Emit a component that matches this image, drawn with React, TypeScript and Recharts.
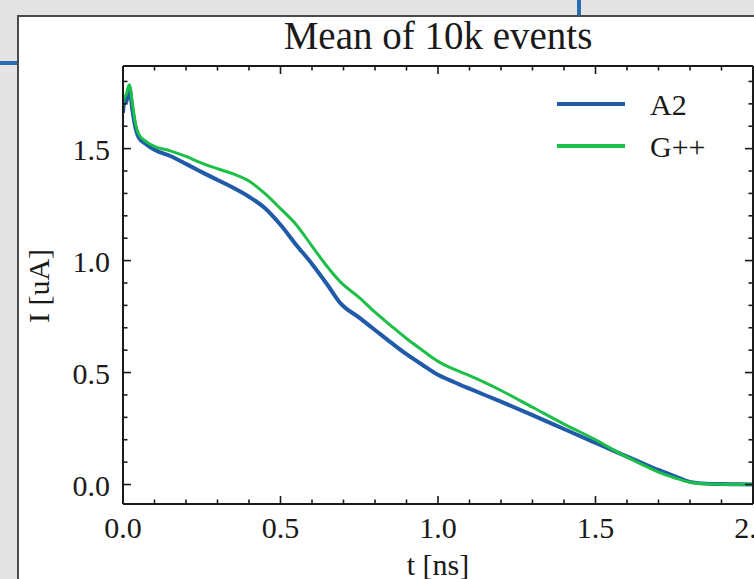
import React from 'react';
import { LineChart, Line, XAxis, YAxis, Legend } from 'recharts';

// time axis in ns, shared by both series
const tValues = [
  0, 0.005, 0.01, 0.02, 0.03, 0.04, 0.05, 0.075, 0.1, 0.15, 0.2, 0.25, 0.3, 0.35, 0.4, 0.45,
  0.5, 0.55, 0.6, 0.65, 0.69, 0.75, 0.8, 0.85, 0.9, 0.95, 1.0, 1.05, 1.1, 1.2, 1.3, 1.4,
  1.5, 1.58, 1.65, 1.7, 1.75, 1.8, 1.85, 1.9, 1.95, 2.0,
];

// mean current in uA
const a2Values = [
  1.66, 1.72, 1.71, 1.775, 1.67, 1.59, 1.55, 1.518, 1.495, 1.467, 1.432, 1.395, 1.36, 1.325, 1.285, 1.235,
  1.16, 1.07, 0.985, 0.89, 0.81, 0.745, 0.69, 0.635, 0.582, 0.535, 0.49, 0.458, 0.428, 0.37, 0.31, 0.248,
  0.186, 0.137, 0.095, 0.065, 0.038, 0.012, 0.004, 0.002, 0.001, 0.0,
];

const gppValues = [
  1.7, 1.73, 1.74, 1.785, 1.7, 1.61, 1.565, 1.53, 1.51, 1.49, 1.465, 1.435, 1.41, 1.387, 1.355, 1.3,
  1.232, 1.16, 1.065, 0.97, 0.905, 0.835, 0.77, 0.71, 0.652, 0.6, 0.55, 0.515, 0.486, 0.42, 0.345, 0.27,
  0.2, 0.137, 0.088, 0.055, 0.03, 0.01, 0.003, 0.001, 0.0, 0.0,
];

const xTicks = [0, 0.1, 0.2, 0.3, 0.4, 0.5, 0.6, 0.7, 0.8, 0.9, 1.0, 1.1, 1.2, 1.3, 1.4, 1.5, 1.6, 1.7, 1.8, 1.9, 2.0];
const yTicks = [0, 0.1, 0.2, 0.3, 0.4, 0.5, 0.6, 0.7, 0.8, 0.9, 1.0, 1.1, 1.2, 1.3, 1.4, 1.5, 1.6, 1.7, 1.8];
const xMajor = [0, 0.5, 1.0, 1.5, 2.0];
const yMajor = [0, 0.5, 1.0, 1.5];

const chartData = tValues.map((t, i) => ({ t, a2: a2Values[i], gpp: gppValues[i] }));

const FONT = "'Liberation Serif', 'DejaVu Serif', serif";
const INK = '#1a1a1a';
const BLUE = '#1f5ba8';
const GREEN = '#1cbf47';

const isMajor = (v: number, list: number[]) => list.some((m) => Math.abs(m - v) < 1e-6);

const BottomTick = (props: any) => {
  const { x, y, payload } = props;
  const major = isMajor(payload.value, xMajor);
  return (
    <g>
      <line x1={x} x2={x} y1={y} y2={y - (major ? 8 : 4.5)} stroke={INK} strokeWidth={1.6} />
      {major && (
        <text x={x} y={y + 34} textAnchor="middle" fontFamily={FONT} fontSize={30} fill={INK}>
          {payload.value.toFixed(1)}
        </text>
      )}
    </g>
  );
};

const TopTick = (props: any) => {
  const { x, y, payload } = props;
  const major = isMajor(payload.value, xMajor);
  return <line x1={x} x2={x} y1={y} y2={y + (major ? 8 : 4.5)} stroke={INK} strokeWidth={1.6} />;
};

const LeftTick = (props: any) => {
  const { x, y, payload } = props;
  const major = isMajor(payload.value, yMajor);
  return (
    <g>
      <line x1={x} x2={x + (major ? 8 : 4.5)} y1={y} y2={y} stroke={INK} strokeWidth={1.6} />
      {major && (
        <text x={x - 13} y={y + 11} textAnchor="end" fontFamily={FONT} fontSize={30} fill={INK}>
          {payload.value.toFixed(1)}
        </text>
      )}
    </g>
  );
};

const RightTick = (props: any) => {
  const { x, y, payload } = props;
  const major = isMajor(payload.value, yMajor);
  return <line x1={x} x2={x - (major ? 8 : 4.5)} y1={y} y2={y} stroke={INK} strokeWidth={1.6} />;
};

const renderLegend = (props: any) => {
  const items = props.payload || [];
  return (
    <svg width={190} height={90} style={{ display: 'block' }}>
      {items.map((item: any, i: number) => (
        <g key={item.value}>
          <line x1={0} x2={68} y1={14 + i * 42} y2={14 + i * 42} stroke={item.color} strokeWidth={4} />
          <text x={93} y={25 + i * 42} fontFamily={FONT} fontSize={30} fill={INK}>
            {item.value}
          </text>
        </g>
      ))}
    </svg>
  );
};

export default function App() {
  return (
    <div
      style={{
        position: 'absolute',
        left: 0,
        top: 0,
        width: 754,
        height: 579,
        overflow: 'hidden',
        background: '#e4e4e4',
      }}
    >
      {/* window decorations behind the figure */}
      <div style={{ position: 'absolute', left: 577, top: 0, width: 4, height: 16, background: '#2a6db3' }} />
      <div style={{ position: 'absolute', left: 0, top: 61, width: 18, height: 4, background: '#2a6db3' }} />
      <div
        style={{
          position: 'absolute',
          left: 17,
          top: 15,
          width: 800,
          height: 600,
          background: '#fff',
          borderLeft: '2px solid #4a4a4a',
          borderTop: '2px solid #4a4a4a',
        }}
      />
      <div style={{ position: 'absolute', left: 0, top: 0 }}>
        <LineChart width={754} height={579} data={chartData} margin={{ top: 65, right: 0, bottom: 74, left: 122 }}>
          <XAxis
            xAxisId="bottom"
            dataKey="t"
            type="number"
            domain={[0, 2]}
            allowDataOverflow
            ticks={xTicks}
            interval={0}
            height={1}
            tickSize={0}
            tickMargin={0}
            tick={<BottomTick />}
            axisLine={{ stroke: INK, strokeWidth: 2 }}
            tickLine={false}
            label={(p: any) => (
              <text x={438} y={575} textAnchor="middle" fontFamily={FONT} fontSize={30} fill={INK}>
                t [ns]
              </text>
            )}
          />
          <XAxis
            xAxisId="top"
            orientation="top"
            dataKey="t"
            type="number"
            domain={[0, 2]}
            allowDataOverflow
            ticks={xTicks}
            interval={0}
            height={1}
            tickSize={0}
            tickMargin={0}
            tick={<TopTick />}
            axisLine={{ stroke: INK, strokeWidth: 2 }}
            tickLine={false}
            label={(p: any) => (
              <text x={438} y={49} textAnchor="middle" fontFamily={FONT} fontSize={39} fill={INK}>
                Mean of 10k events
              </text>
            )}
          />
          <YAxis
            yAxisId="left"
            type="number"
            domain={[-0.087, 1.869]}
            allowDataOverflow
            ticks={yTicks}
            interval={0}
            width={1}
            tickSize={0}
            tickMargin={0}
            tick={<LeftTick />}
            axisLine={{ stroke: INK, strokeWidth: 2 }}
            tickLine={false}
            label={(p: any) => (
              <text
                x={49}
                y={286}
                transform="rotate(-90, 49, 286)"
                textAnchor="middle"
                fontFamily={FONT}
                fontSize={30}
                fill={INK}
              >
                I [uA]
              </text>
            )}
          />
          <YAxis
            yAxisId="right"
            orientation="right"
            type="number"
            domain={[-0.087, 1.869]}
            allowDataOverflow
            ticks={yTicks}
            interval={0}
            width={1}
            tickSize={0}
            tickMargin={0}
            tick={<RightTick />}
            axisLine={{ stroke: INK, strokeWidth: 2 }}
            tickLine={false}
          />
          <Legend
            layout="horizontal"
            align="center"
            verticalAlign="middle"
            content={renderLegend}
            wrapperStyle={{ left: 557, top: 90, width: 190, height: 90 }}
          />
          <Line
            xAxisId="bottom"
            yAxisId="left"
            type="monotone"
            dataKey="a2"
            name="A2"
            stroke={BLUE}
            strokeWidth={4}
            dot={false}
            isAnimationActive={false}
          />
          <Line
            xAxisId="bottom"
            yAxisId="left"
            type="monotone"
            dataKey="gpp"
            name="G++"
            stroke={GREEN}
            strokeWidth={3}
            dot={false}
            isAnimationActive={false}
          />
        </LineChart>
      </div>
    </div>
  );
}
